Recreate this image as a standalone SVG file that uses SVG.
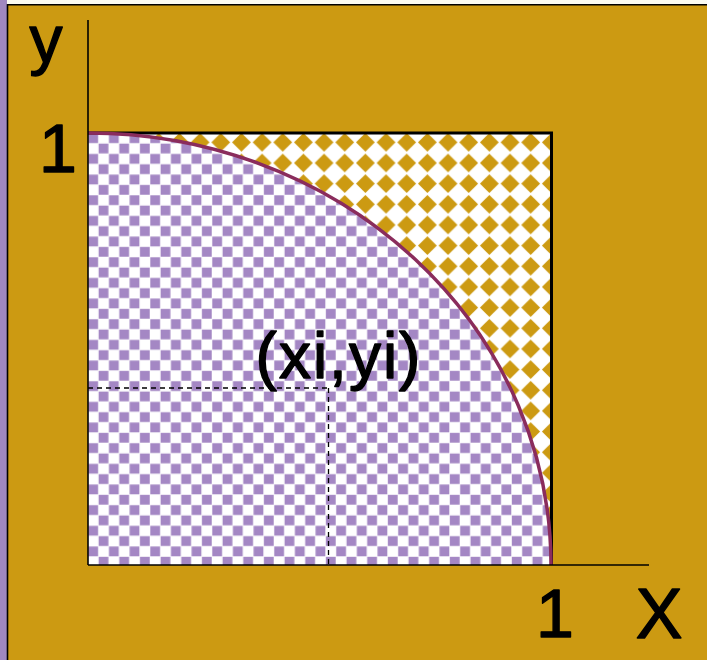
<svg xmlns="http://www.w3.org/2000/svg" width="707" height="660" viewBox="0 0 707 660">
  <style>
    .lbl { font-family: "Liberation Sans", "DejaVu Sans", sans-serif; fill: #000; stroke: #000; stroke-width: 1.4; stroke-linejoin: round; }
    .axis { stroke: #000; stroke-width: 1.6; fill: none; }
    .dash { stroke: #000; stroke-width: 1.3; stroke-dasharray: 5 4; fill: none; }
  </style>
  <defs>
    <pattern id="checker" patternUnits="userSpaceOnUse" x="88" y="133" width="20.66" height="20.66">
      <rect width="20.66" height="20.66" fill="#ffffff"/>
      <rect x="0.3" y="0.3" width="9.8" height="9.8" fill="#a487c4"/>
      <rect x="10.63" y="10.63" width="9.8" height="9.8" fill="#a487c4"/>
    </pattern>
    <pattern id="diamonds" patternUnits="userSpaceOnUse" x="86.5" y="132" width="20.66" height="20.66">
      <rect width="20.66" height="20.66" fill="#ffffff"/>
      <polygon points="10.33,0.9 19.76,10.33 10.33,19.76 0.9,10.33" fill="#cc9a12"/>
    </pattern>
  </defs>

  <g id="background">
    <rect x="0" y="0" width="707" height="660" fill="#cc9a12"/>
    <rect x="0" y="0" width="707" height="4.5" fill="#fbfbf1"/>
    <rect x="0" y="0" width="7" height="660" fill="#a088c0"/>
    <path d="M7.5,660 V4.8 H707" stroke="#000" stroke-width="1.6" fill="none"/>
  </g>

  <g id="square">
    <rect x="88" y="133" width="463" height="432" fill="url(#diamonds)"/>
    <path d="M88,565 L88,133 A463,432 0 0 1 551,565 Z" fill="url(#checker)"/>
    <path d="M88,133 H551.5 V565" stroke="#000" stroke-width="3" fill="none"/>
    <path d="M88,133 A463,432 0 0 1 551,565" stroke="#8a2c5c" stroke-width="3.5" fill="none"/>
  </g>

  <g id="connectors">
    <line class="axis" x1="88" y1="20" x2="88" y2="565"/>
    <line class="axis" x1="88" y1="565" x2="649" y2="565"/>
    <line class="dash" x1="88" y1="388" x2="329" y2="388"/>
    <line class="dash" x1="328.5" y1="388" x2="328.5" y2="565"/>
  </g>

  <g id="labels">
    <text class="lbl" x="46" y="62" font-size="66" text-anchor="middle">y</text>
    <text class="lbl" x="58" y="172" font-size="68" text-anchor="middle">1</text>
    <text class="lbl" x="555" y="637" font-size="68" text-anchor="middle">1</text>
    <text class="lbl" x="659" y="638" font-size="70" text-anchor="middle">X</text>
    <text class="lbl" x="339" y="378" font-size="64" text-anchor="middle" letter-spacing="2">(xi,yi)</text>
  </g>
</svg>
